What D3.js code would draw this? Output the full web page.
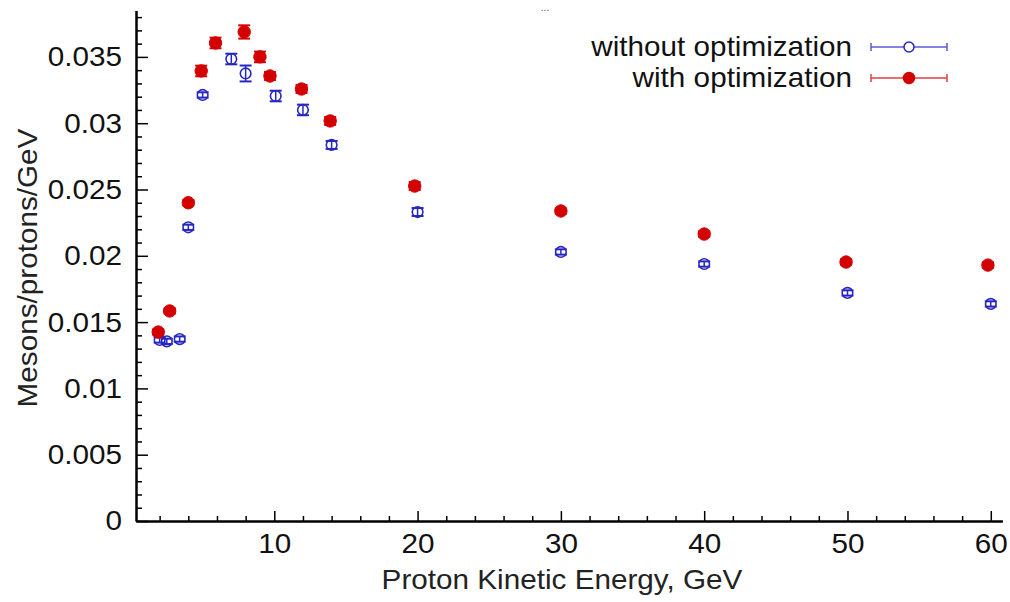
<!DOCTYPE html>
<html>
<head>
<meta charset="utf-8">
<script src="https://cdn.jsdelivr.net/npm/d3@7"></script>
<style>
  html, body { margin: 0; padding: 0; background: #fff; }
  svg { display: block; font-family: "Liberation Sans", Arial, sans-serif; }
</style>
</head>
<body>
<svg id="chart" width="1010" height="602"></svg>
<script>
// ---- data ----
const seriesNames = ["without optimization", "with optimization"];
const withoutX   = [2, 2.5, 3.4, 4, 5, 7, 8, 10.1, 12, 14, 20, 30, 40, 50, 60];
const withoutY   = [0.01365, 0.01355, 0.01372, 0.02215, 0.03213, 0.03484, 0.03375, 0.03205, 0.03100, 0.02836, 0.02330, 0.02029, 0.01938, 0.01720, 0.01637];
const withoutErr = [0.0002, 0.0002, 0.0002, 0.0002, 0.0002, 0.0004, 0.0006, 0.0004, 0.0004, 0.0003, 0.0003, 0.0002, 0.0002, 0.0002, 0.0002];
const withX      = [1.9, 2.7, 4, 4.9, 5.9, 7.9, 9, 9.7, 11.9, 13.9, 19.8, 30, 40, 49.9, 59.8];
const withY      = [0.01425, 0.01584, 0.02400, 0.03394, 0.03605, 0.03688, 0.03500, 0.03356, 0.03258, 0.03017, 0.02526, 0.02338, 0.02164, 0.01953, 0.01930];
const withErr    = [0.0002, 0.0002, 0.0002, 0.0004, 0.0004, 0.0005, 0.0004, 0.0003, 0.0003, 0.0003, 0.0003, 0.0002, 0.0002, 0.0002, 0.0002];
const xTicks      = [10, 20, 30, 40, 50, 60];
const xTickLabels = ["10", "20", "30", "40", "50", "60"];
const yTicks      = [0, 0.005, 0.01, 0.015, 0.02, 0.025, 0.03, 0.035];
const yTickLabels = ["0", "0.005", "0.01", "0.015", "0.02", "0.025", "0.03", "0.035"];
const xTitle = "Proton Kinetic Energy, GeV";
const yTitle = "Mesons/protons/GeV";

// ---- layout ----
const svg = d3.select("#chart");
const left = 136, bottom = 521;
const pxPerX = 14.33, pxPerY = 13260;
const xDom = [0.35, 60.8], yDom = [0, 0.0385];
const x = d3.scaleLinear().domain(xDom).range([left, left + (xDom[1] - xDom[0]) * pxPerX]);
const y = d3.scaleLinear().domain(yDom).range([bottom, bottom - yDom[1] * pxPerY]);
const fontSize = 28;
const stretch = 1.06;

// minor ticks
const xMinor = d3.range(2, 61, 2).filter(v => v % 10 !== 0);
const yMinor = d3.range(0, 0.0385, 0.001).filter(v => Math.abs(v / 0.005 - Math.round(v / 0.005)) > 1e-6);

const xAxisG = svg.append("g").attr("transform", `translate(0,${bottom})`);
xAxisG.call(d3.axisBottom(x).tickValues(xMinor).tickSizeInner(-5).tickSizeOuter(0).tickFormat(""));
xAxisG.append("g").call(d3.axisBottom(x).tickValues(xTicks).tickSizeInner(-10).tickSizeOuter(0)
  .tickPadding(12).tickFormat((d, i) => xTickLabels[i]));
const yAxisG = svg.append("g").attr("transform", `translate(${left},0)`);
yAxisG.call(d3.axisLeft(y).tickValues(yMinor).tickSizeInner(-6).tickSizeOuter(0).tickFormat(""));
yAxisG.append("g").call(d3.axisLeft(y).tickValues(yTicks).tickSizeInner(-12).tickSizeOuter(0)
  .tickPadding(14).tickFormat((d, i) => yTickLabels[i]));

svg.selectAll(".domain").attr("stroke", "#000").attr("stroke-width", 2);
svg.selectAll(".tick line").attr("stroke", "#000").attr("stroke-width", 1.5);
svg.selectAll(".tick text").attr("font-size", fontSize).attr("fill", "#111")
  .attr("font-family", "'Liberation Sans', Arial, sans-serif");

// titles
svg.append("text").attr("x", 562).attr("y", 589).attr("text-anchor", "middle")
  .attr("font-size", fontSize).attr("fill", "#222").text(xTitle);
svg.append("text").attr("transform", `translate(37,268) rotate(-90)`).attr("text-anchor", "middle")
  .attr("font-size", fontSize).attr("fill", "#222").text(yTitle);

// series
const series = [
  { name: seriesNames[0], xs: withoutX, ys: withoutY, es: withoutErr, color: "#2727c0", lineColor: "#5a5ad6", filled: false },
  { name: seriesNames[1], xs: withX, ys: withY, es: withErr, color: "#d40000", lineColor: "#e04040", filled: true }
];

const capW = 6;
series.forEach(s => {
  const g = svg.append("g");
  const pts = s.xs.map((v, i) => ({ x: v, y: s.ys[i], e: s.es[i] }));
  const eb = g.selectAll(".eb").data(pts).enter().append("g");
  eb.append("line").attr("x1", d => x(d.x)).attr("x2", d => x(d.x))
    .attr("y1", d => y(d.y + d.e)).attr("y2", d => y(d.y - d.e))
    .attr("stroke", s.color).attr("stroke-width", 1.5);
  eb.append("line").attr("x1", d => x(d.x) - capW).attr("x2", d => x(d.x) + capW)
    .attr("y1", d => y(d.y + d.e)).attr("y2", d => y(d.y + d.e))
    .attr("stroke", s.color).attr("stroke-width", 2);
  eb.append("line").attr("x1", d => x(d.x) - capW).attr("x2", d => x(d.x) + capW)
    .attr("y1", d => y(d.y - d.e)).attr("y2", d => y(d.y - d.e))
    .attr("stroke", s.color).attr("stroke-width", 2);
  g.selectAll("circle").data(pts).enter().append("circle")
    .attr("cx", d => x(d.x)).attr("cy", d => y(d.y))
    .attr("r", s.filled ? 6.2 : 5.3)
    .attr("fill", s.filled ? s.color : "none")
    .attr("stroke", s.color).attr("stroke-width", s.filled ? 1 : 1.6);
});

// legend
const legTextX = 852, legLineX1 = 871, legLineX2 = 947, legMarkX = 909;
const legY = [47, 78];
series.forEach((s, i) => {
  const g = svg.append("g");
  g.append("text").attr("x", legTextX).attr("y", legY[i] + 9).attr("text-anchor", "end")
    .attr("font-size", fontSize).attr("fill", "#111").text(s.name);
  g.append("line").attr("x1", legLineX1).attr("x2", legLineX2).attr("y1", legY[i]).attr("y2", legY[i])
    .attr("stroke", s.lineColor).attr("stroke-width", 1.5);
  [legLineX1, legLineX2].forEach(xx => g.append("line").attr("x1", xx).attr("x2", xx)
    .attr("y1", legY[i] - 4).attr("y2", legY[i] + 4).attr("stroke", s.lineColor).attr("stroke-width", 1.5));
  g.append("circle").attr("cx", legMarkX).attr("cy", legY[i]).attr("r", s.filled ? 5.5 : 5)
    .attr("fill", s.filled ? s.color : "#fff").attr("stroke", s.color).attr("stroke-width", 1.5);
});

// widen text slightly to match the reference's lettering width
svg.selectAll("text").each(function () {
  const L = this.getComputedTextLength();
  if (L > 0) d3.select(this).attr("textLength", L * stretch).attr("lengthAdjust", "spacingAndGlyphs");
});

// small mark at top
svg.append("text").attr("x", 545).attr("y", 11).attr("text-anchor", "middle")
  .attr("font-size", 10).attr("fill", "#555").text("...");
</script>
</body>
</html>
